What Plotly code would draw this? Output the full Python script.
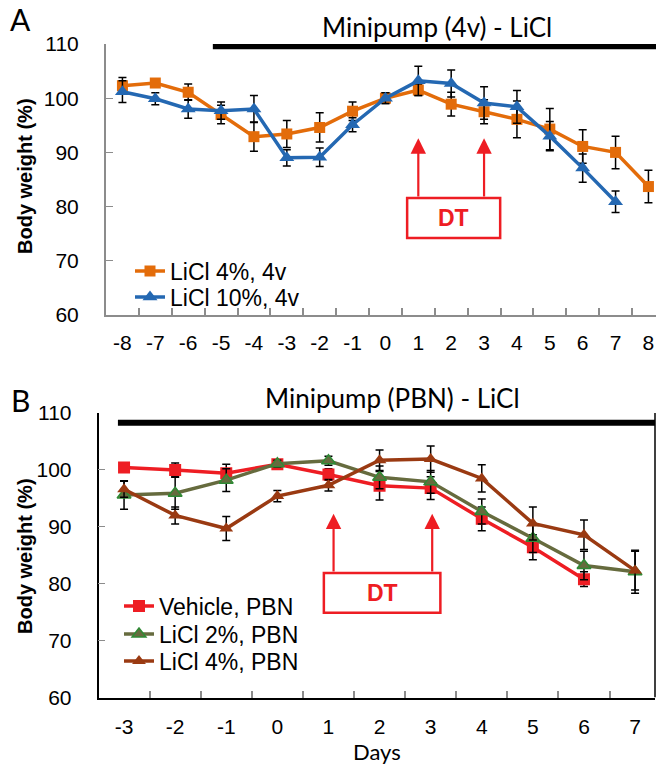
import plotly.graph_objects as go

W, H = 656, 767

# ---------- Panel A data ----------
days_a = [-8, -7, -6, -5, -4, -3, -2, -1, 0, 1, 2, 3, 4, 5, 6, 7, 8]
licl4_4v = [102.3, 102.8, 101.1, 97.0, 92.9, 93.4, 94.6, 97.6, 100.0, 101.5, 98.9, 97.5, 96.1, 94.3, 91.1, 90.0, 83.7]
licl4_4v_err = [1.5, 0.8, 1.5, 1.7, 2.7, 2.5, 2.7, 1.7, 1.0, 1.0, 2.2, 2.2, 3.4, 3.8, 3.1, 3.0, 3.0]
days_a10 = [-8, -7, -6, -5, -4, -3, -2, -1, 0, 1, 2, 3, 4, 5, 6, 7]
licl10_4v = [101.2, 99.9, 98.0, 97.7, 98.0, 89.0, 89.1, 95.1, 100.0, 103.2, 102.7, 99.1, 98.4, 93.0, 87.1, 80.9]
licl10_4v_err = [2.0, 1.1, 1.7, 1.6, 2.5, 1.5, 1.7, 1.3, 1.0, 2.7, 2.5, 3.0, 3.0, 2.7, 2.6, 2.0]

# ---------- Panel B data ----------
days_b = [-3, -2, -1, 0, 1, 2, 3, 4, 5, 6, 7]
veh_pbn = [100.4, 100.0, 99.4, 101.0, 99.2, 97.2, 96.8, 91.4, 86.4, 80.8]
veh_pbn_err = [0.6, 1.2, 1.6, 0.5, 1.0, 2.5, 2.0, 2.1, 2.2, 1.3]
licl2_pbn = [95.6, 95.9, 98.2, 101.1, 101.6, 98.7, 97.9, 92.7, 88.0, 83.2, 82.1]
licl2_pbn_err = [2.5, 2.8, 2.0, 0.6, 0.8, 2.0, 2.0, 2.2, 2.5, 2.5, 3.8]
licl4_pbn = [96.6, 92.0, 89.7, 95.4, 97.3, 101.7, 101.9, 98.5, 90.6, 88.6, 82.3]
licl4_pbn_err = [1.4, 1.5, 2.1, 1.0, 1.0, 1.8, 2.3, 2.4, 2.9, 2.6, 3.4]

yticks = [60, 70, 80, 90, 100, 110]

ORANGE = "#E36C0A"
BLUE = "#2468B2"
RED = "#EE1D23"
OLIVE = "#666B3E"
GREEN = "#2F8A35"
BROWN = "#9A3A12"

ARIAL = "Liberation Sans, Arial"
TICKFONT = dict(family=ARIAL, size=21, color="black")
LEGFONT = dict(family=ARIAL, size=23, color="black")

fig = go.Figure()

def err(arr):
    return dict(type="data", array=arr, color="black", thickness=1.5, width=4)

fig.add_trace(go.Scatter(x=days_a, y=licl4_4v, error_y=err(licl4_4v_err),
                         mode="lines+markers", name="LiCl 4%, 4v",
                         line=dict(color=ORANGE, width=3.5),
                         marker=dict(symbol="square", size=11, color=ORANGE),
                         xaxis="x", yaxis="y", legend="legend"))
fig.add_trace(go.Scatter(x=days_a10, y=licl10_4v, error_y=err(licl10_4v_err),
                         mode="lines+markers", name="LiCl 10%, 4v",
                         line=dict(color=BLUE, width=3.5),
                         marker=dict(symbol="triangle-up", size=13, color=BLUE),
                         xaxis="x", yaxis="y", legend="legend2"))

fig.add_trace(go.Scatter(x=days_b[:len(veh_pbn)], y=veh_pbn, error_y=err(veh_pbn_err),
                         mode="lines+markers", name="Vehicle, PBN",
                         line=dict(color=RED, width=3.5),
                         marker=dict(symbol="square", size=12, color=RED),
                         xaxis="x2", yaxis="y2", legend="legend3"))
fig.add_trace(go.Scatter(x=days_b, y=licl2_pbn, error_y=err(licl2_pbn_err),
                         mode="lines+markers", name="LiCl 2%, PBN",
                         line=dict(color=OLIVE, width=3.5),
                         marker=dict(symbol="triangle-up", size=12, color=OLIVE,
                                     line=dict(color=GREEN, width=1.5)),
                         xaxis="x2", yaxis="y2", legend="legend4"))
fig.add_trace(go.Scatter(x=days_b, y=licl4_pbn, error_y=err(licl4_pbn_err),
                         mode="lines+markers", name="LiCl 4%, PBN",
                         line=dict(color=BROWN, width=3.5),
                         marker=dict(symbol="triangle-up", size=12, color=BROWN),
                         xaxis="x2", yaxis="y2", legend="legend5"))

# axes geometry (pixels from top-left)
ax_l, ax_r = 106 / W, 1.0
a_bot, a_top = (H - 315) / H, (H - 44) / H
bx_l, bx_r = 98.5 / W, 655 / W
b_bot, b_top = (H - 697.5) / H, (H - 413) / H

def leg(xpx, ypx):
    return dict(x=xpx / W, y=(H - ypx) / H, xanchor="left", yanchor="middle",
                bgcolor="rgba(0,0,0,0)", font=LEGFONT, itemwidth=30, borderwidth=0)

fig.update_layout(
    width=W, height=H, margin=dict(l=0, r=0, t=0, b=0, pad=0),
    paper_bgcolor="white", plot_bgcolor="white", showlegend=True,
    xaxis=dict(domain=[ax_l, ax_r], range=[-8.5, 8.23], anchor="y", automargin=False,
               tickvals=days_a, ticktext=[str(d) for d in days_a], ticks="",
               tickfont=TICKFONT, showgrid=False, zeroline=False,
               showline=True, linecolor="#8C8C8C", linewidth=2,
               minor=dict(tickvals=[d + 0.5 for d in days_a[:-1]], ticks="inside",
                          ticklen=7, tickcolor="#8C8C8C", tickwidth=1.5, showgrid=False),
               ticklabelstandoff=8),
    yaxis=dict(domain=[a_bot, a_top], range=[60, 110], anchor="x", automargin=False,
               tickvals=yticks, ticks="inside", ticklen=7, tickcolor="#8C8C8C",
               tickfont=TICKFONT, showgrid=False, zeroline=False,
               showline=True, linecolor="#8C8C8C", linewidth=2, ticklabelstandoff=21),
    xaxis2=dict(domain=[bx_l, bx_r], range=[-3.5, 7.39], anchor="y2", automargin=False,
                tickvals=days_b, ticktext=[str(d) for d in days_b], ticks="",
                tickfont=TICKFONT, showgrid=False, zeroline=False,
                showline=True, linecolor="black", linewidth=1.5,
                minor=dict(tickvals=[d + 0.5 for d in days_b[:-1]], ticks="inside",
                           ticklen=7, tickcolor="#8C8C8C", tickwidth=1.5, showgrid=False),
                ticklabelstandoff=10),
    yaxis2=dict(domain=[b_bot, b_top], range=[60, 110], anchor="x2", automargin=False,
                tickvals=yticks, ticks="inside", ticklen=7, tickcolor="#8C8C8C",
                tickfont=TICKFONT, showgrid=False, zeroline=False,
                showline=True, linecolor="black", linewidth=1.5, ticklabelstandoff=21),
    legend=leg(130, 271),
    legend2=leg(130, 297),
    legend3=leg(119, 606),
    legend4=leg(119, 634),
    legend5=leg(119, 661),
)

shapes = []
# black bars
shapes.append(dict(type="line", xref="x", yref="y", x0=-5.25, x1=8.23, y0=109.6, y1=109.6,
                   line=dict(color="black", width=6)))
shapes.append(dict(type="line", xref="x2", yref="y2", x0=-3.12, x1=7.39, y0=108.3, y1=108.3,
                   line=dict(color="black", width=6)))
# right border of panel B
shapes.append(dict(type="line", xref="paper", yref="y2", x0=bx_r, x1=bx_r, y0=60, y1=110,
                   line=dict(color="black", width=1.5)))
# DT boxes
shapes.append(dict(type="rect", xref="x", yref="y", x0=0.66, x1=3.49, y0=74.2, y1=81.6,
                   line=dict(color=RED, width=2.5), fillcolor="white"))
shapes.append(dict(type="rect", xref="x2", yref="y2", x0=0.91, x1=3.19, y0=74.9, y1=81.9,
                   line=dict(color=RED, width=2.5), fillcolor="white"))
fig.update_layout(shapes=shapes)

ann = []
for xv in [1, 3]:
    ann.append(dict(x=xv, y=92.6, ax=xv, ay=81.6, xref="x", yref="y", axref="x", ayref="y",
                    text="", showarrow=True, arrowhead=2, arrowsize=1.4, arrowwidth=2.2, arrowcolor=RED))
for xv in [1.1, 3.03]:
    ann.append(dict(x=xv, y=92.3, ax=xv, ay=81.9, xref="x2", yref="y2", axref="x2", ayref="y2",
                    text="", showarrow=True, arrowhead=2, arrowsize=1.4, arrowwidth=2.2, arrowcolor=RED))
ann.append(dict(x=2.075, y=77.9, xref="x", yref="y", text="<b>DT</b>", showarrow=False,
                xanchor="center", yanchor="middle",
                font=dict(family=ARIAL, size=23, color=RED)))
ann.append(dict(x=2.05, y=78.4, xref="x2", yref="y2", text="<b>DT</b>", showarrow=False,
                xanchor="center", yanchor="middle",
                font=dict(family=ARIAL, size=23, color=RED)))

def pann(xpx, ypx, text, font, angle=0):
    return dict(x=xpx / W, y=(H - ypx) / H, xref="paper", yref="paper", text=text,
                showarrow=False, xanchor="center", yanchor="middle", textangle=angle, font=font)

TITLEFONT = dict(family="Lato, Open Sans", size=26, color="black")
ann.append(pann(437, 27, "Minipump (4v) - LiCl", TITLEFONT))
ann.append(pann(392, 398, "Minipump (PBN) - LiCl", TITLEFONT))
ann.append(pann(20, 19, "A", dict(family="Lato, Open Sans", size=30, color="black")))
ann.append(pann(20, 400, "B", dict(family="Lato, Open Sans", size=30, color="black")))
ann.append(pann(25, 176, "<b>Body weight (%)</b>", dict(family=ARIAL, size=20, color="black"), -90))
ann.append(pann(25, 556, "<b>Body weight (%)</b>", dict(family=ARIAL, size=20, color="black"), -90))
ann.append(pann(377, 751, "Days", dict(family="Lato, Open Sans", size=22, color="black")))
fig.update_layout(annotations=ann)

fig.write_html("out.html", config={"displayModeBar": False},
               post_script="document.body.style.margin='0px';")
